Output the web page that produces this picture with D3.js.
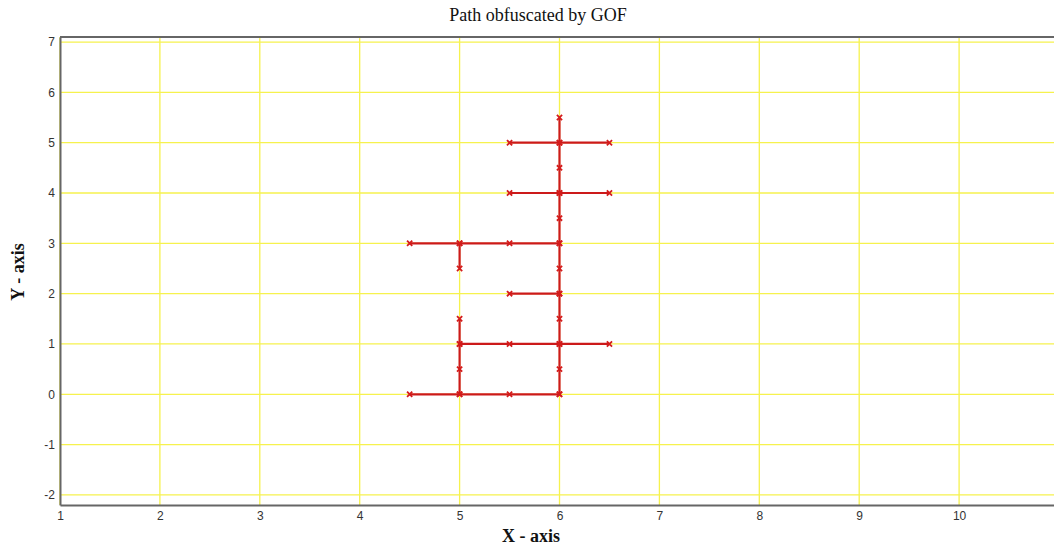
<!DOCTYPE html>
<html>
<head>
<meta charset="utf-8">
<script src="https://cdn.jsdelivr.net/npm/d3@7"></script>
<style>
  html, body { margin: 0; padding: 0; background: #fff; }
  svg { display: block; }
</style>
</head>
<body>
<svg id="chart" width="1054" height="549"></svg>
<script>
// Path segments (each a polyline of [x, y] waypoints)
const segBottom  = [[4.5, 0], [5, 0], [5.5, 0], [6, 0]];
const segLeftLow = [[5, 0], [5, 0.5], [5, 1], [5, 1.5]];
const segMidRow  = [[5, 1], [5.5, 1], [6, 1], [6.5, 1]];
const segLeftTop = [[5, 2.5], [5, 3]];
const segTopRow  = [[4.5, 3], [5, 3], [5.5, 3], [6, 3]];
const segSpine   = [[6, 0], [6, 0.5], [6, 1], [6, 1.5], [6, 2], [6, 2.5], [6, 3],
                    [6, 3.5], [6, 4], [6, 4.5], [6, 5], [6, 5.5]];
const segRow2    = [[5.5, 2], [6, 2]];
const segRow4    = [[5.5, 4], [6, 4], [6.5, 4]];
const segRow5    = [[5.5, 5], [6, 5], [6.5, 5]];
const segments = [segBottom, segLeftLow, segMidRow, segLeftTop, segTopRow,
                  segSpine, segRow2, segRow4, segRow5];

const xTicks = [1, 2, 3, 4, 5, 6, 7, 8, 9, 10];
const yTicks = [-2, -1, 0, 1, 2, 3, 4, 5, 6, 7];
const xDomain = [1, 10.95];
const yDomain = [-2.2, 7.1];

const svg = d3.select("#chart");
const margin = { left: 60, top: 37, right: 0, bottom: 44 };
const W = 1054, H = 549;

const x = d3.scaleLinear().domain(xDomain).range([margin.left, W - margin.right]);
const y = d3.scaleLinear().domain(yDomain).range([H - margin.bottom, margin.top]);

// grid
const grid = svg.append("g");
grid.selectAll("line.v").data(xTicks).join("line")
  .attr("x1", d => x(d)).attr("x2", d => x(d))
  .attr("y1", y(yDomain[1])).attr("y2", y(yDomain[0]))
  .attr("stroke", "#f6f24e").attr("stroke-width", 1.3);
grid.selectAll("line.h").data(yTicks).join("line")
  .attr("y1", d => y(d)).attr("y2", d => y(d))
  .attr("x1", x(xDomain[0])).attr("x2", x(xDomain[1]))
  .attr("stroke", "#f6f24e").attr("stroke-width", 1.3);

// axes (plain hyphen for negatives)
const fmt = d => String(d);
const xAxis = d3.axisBottom(x).tickValues(xTicks).tickFormat(fmt).tickSize(0).tickPadding(6);
const yAxis = d3.axisLeft(y).tickValues(yTicks).tickFormat(fmt).tickSize(0).tickPadding(5);

const gx = svg.append("g").attr("transform", `translate(0,${y(yDomain[0])})`).call(xAxis);
const gy = svg.append("g").attr("transform", `translate(${x(xDomain[0])},0)`).call(yAxis);
[gx, gy].forEach(g => {
  g.select(".domain").attr("stroke", "#666").attr("stroke-width", 2);
  g.selectAll("text").attr("font-family", "Liberation Sans, Arial, sans-serif")
    .attr("font-size", 12).attr("fill", "#333");
});

// top border
svg.append("line")
  .attr("x1", x(xDomain[0])).attr("x2", x(xDomain[1]))
  .attr("y1", y(yDomain[1])).attr("y2", y(yDomain[1]))
  .attr("stroke", "#666").attr("stroke-width", 2);

// path lines
const line = d3.line().x(d => x(d[0])).y(d => y(d[1]));
svg.append("g").selectAll("path").data(segments).join("path")
  .attr("d", line)
  .attr("fill", "none")
  .attr("stroke", "#cc1a1a")
  .attr("stroke-width", 2.2);

// x markers at each waypoint
const pts = segments.flat();
const s = 2.6;
svg.append("g").selectAll("path").data(pts).join("path")
  .attr("d", d => {
    const px = x(d[0]), py = y(d[1]);
    return `M${px - s},${py - s}L${px + s},${py + s}M${px - s},${py + s}L${px + s},${py - s}`;
  })
  .attr("stroke", "#d41c1c")
  .attr("stroke-width", 1.8)
  .attr("fill", "none");

// titles
svg.append("text")
  .attr("x", 538).attr("y", 21)
  .attr("text-anchor", "middle")
  .attr("font-family", "Liberation Serif, Times New Roman, serif")
  .attr("font-size", 18)
  .attr("fill", "#111")
  .text("Path obfuscated by GOF");

svg.append("text")
  .attr("x", 531).attr("y", 542)
  .attr("text-anchor", "middle")
  .attr("font-family", "Liberation Serif, Times New Roman, serif")
  .attr("font-weight", "bold")
  .attr("font-size", 18)
  .attr("fill", "#111")
  .text("X - axis");

svg.append("text")
  .attr("transform", `translate(24,272) rotate(-90)`)
  .attr("text-anchor", "middle")
  .attr("font-family", "Liberation Serif, Times New Roman, serif")
  .attr("font-weight", "bold")
  .attr("font-size", 18)
  .attr("fill", "#111")
  .text("Y - axis");
</script>
</body>
</html>
